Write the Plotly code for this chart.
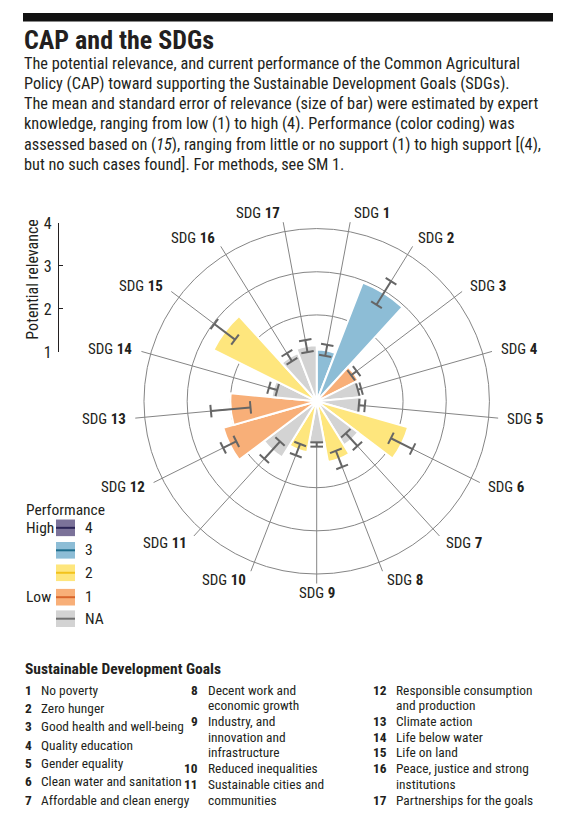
import math
import plotly.graph_objects as go

W, H = 565, 829
FONT = "Roboto Condensed, DejaVu Sans Condensed, Liberation Sans Narrow, Arial Narrow, Roboto, sans-serif"
TXT = "#231f20"

# ---------------- data ----------------
sdg_labels = [f"SDG {i}" for i in range(1, 18)]
sdg_ticktext = [f"SDG <b>{i}</b>" for i in range(1, 18)]
relevance = [1.2, 2.95, 1.08, 1.03, 1.05, 2.2, 1.2, 1.43, 1.0, 1.2, 1.53, 2.25, 2.0, 1.05, 2.67, 1.2, 1.3]
relevance_se = [0.13, 0.32, 0.08, 0.04, 0.07, 0.28, 0.2, 0.2, 0.05, 0.14, 0.27, 0.17, 0.46, 0.1, 0.3, 0.11, 0.14]
performance = ["3", "3", "1", "NA", "NA", "2", "NA", "2", "NA", "2", "NA", "1", "1", "NA", "2", "NA", "NA"]
perf_levels = ["4", "3", "2", "1", "NA"]
perf_side = ["High", "", "", "Low", ""]
perf_fill = {"4": "#7b7299", "3": "#8dbdd6", "2": "#fee67d", "1": "#f8af78", "NA": "#d3d3d3"}
perf_line = {"4": "#2b2456", "3": "#1e6d8c", "2": "#f2c21c", "1": "#d8652c", "NA": "#707070"}
relevance_ticks = [1, 2, 3, 4]

goal_col1 = [("1", "No poverty"), ("2", "Zero hunger"), ("3", "Good health and well-being"),
             ("4", "Quality education"), ("5", "Gender equality"),
             ("6", "Clean water and sanitation"), ("7", "Affordable and clean energy")]
goal_col2 = [("8", "Decent work and"), ("", "economic growth"), ("9", "Industry, and"),
             ("", "innovation and"), ("", "infrastructure"), ("10", "Reduced inequalities"),
             ("11", "Sustainable cities and"), ("", "communities")]
goal_col3 = [("12", "Responsible consumption"), ("", "and production"), ("13", "Climate action"),
             ("14", "Life below water"), ("15", "Life on land"), ("16", "Peace, justice and strong"),
             ("", "institutions"), ("17", "Partnerships for the goals")]

title = "CAP and the SDGs"
subtitle_lines = [
    "The potential relevance, and current performance of the Common Agricultural",
    "Policy (CAP) toward supporting the Sustainable Development Goals (SDGs).",
    "The mean and standard error of relevance (size of bar) were estimated by expert",
    "knowledge, ranging from low (1) to high (4). Performance (color coding) was",
    "assessed based on (<i>15</i>), ranging from little or no support (1) to high support [(4),",
    "but no such cases found]. For methods, see SM 1.",
]

# ---------------- geometry helpers (pixels -> paper) ----------------
def px(x):
    return x / W

def py(y):
    return 1 - y / H

N = len(sdg_labels)
STEP = 360 / N
ROT = 90 - STEP / 2          # SDG 1 sits half a slot clockwise from north
CX, CY, RPIX = 316.7, 401.5, 186.5
RMAX = 4.22

fig = go.Figure()

fig.add_trace(go.Barpolar(
    r=relevance, theta=sdg_labels,
    marker=dict(color=[perf_fill[p] for p in performance], line=dict(color="white", width=2)),
    showlegend=False, hoverinfo="skip",
))

# error bars (mean +/- se) along each spoke, with caps
er, et, ang = [], [], []
for i, (m, s, lab) in enumerate(zip(relevance, relevance_se, sdg_labels)):
    a = STEP / 2 + i * STEP
    er += [m - s, m + s, None]
    et += [lab, lab, None]
    ang += [a, a, 0]
fig.add_trace(go.Scatterpolar(
    r=er, theta=et, mode="lines+markers",
    line=dict(color="#666666", width=2),
    marker=dict(symbol="line-ew", size=9, angle=ang, color="#666666",
                line=dict(color="#666666", width=2)),
    showlegend=False, hoverinfo="skip", connectgaps=False,
))

# invisible trace for the left "Potential relevance" scale
fig.add_trace(go.Scatter(x=[0, 0], y=[relevance_ticks[0], relevance_ticks[-1]], mode="none",
                         showlegend=False, hoverinfo="skip"))

fig.update_layout(
    width=W, height=H, margin=dict(l=0, r=0, t=0, b=0),
    paper_bgcolor="white", plot_bgcolor="rgba(0,0,0,0)",
    font=dict(family=FONT, color=TXT),
    polar=dict(
        domain=dict(x=[px(CX - RPIX), px(CX + RPIX)], y=[py(CY + RPIX), py(CY - RPIX)]),
        bgcolor="rgba(0,0,0,0)",
        bargap=0,
        radialaxis=dict(range=[0, RMAX], tickvals=relevance_ticks, showticklabels=False,
                        ticks="", showline=False, gridcolor="#858585", gridwidth=0.9,
                        layer="above traces"),
        angularaxis=dict(rotation=ROT, direction="clockwise", type="category",
                         categoryarray=sdg_labels, tickvals=sdg_labels,
                         showticklabels=False, ticks="",
                         showline=False, gridcolor="#858585", gridwidth=0.9,
                         layer="above traces"),
    ),
    xaxis=dict(domain=[px(59), px(60)], visible=False, range=[0, 1]),
    yaxis=dict(domain=[py(351), py(219)], range=[1, 4], tickvals=relevance_ticks,
               showline=True, linecolor=TXT, linewidth=1.2, ticks="inside", ticklen=4,
               tickcolor=TXT, showgrid=False, zeroline=False, anchor="x",
               tickfont=dict(size=16, family=FONT, color=TXT), ticklabelstandoff=3),
)

shapes = []
ann = []

def text(t, x, y, size, xanchor="left", bold=False, angle=0):
    ann.append(dict(text=f"<b>{t}</b>" if bold else t, x=px(x), y=py(y), xref="paper", yref="paper",
                    xanchor=xanchor, yanchor="middle", showarrow=False, textangle=angle,
                    font=dict(size=size, family=FONT, color=TXT)))

# spoke-end labels (SDG n) placed at the outer end of each angular grid line
for i, lab in enumerate(sdg_ticktext):
    a = math.radians(STEP / 2 + i * STEP)
    s, c = math.sin(a), math.cos(a)
    ex, ey = CX + RPIX * s, CY - RPIX * c
    xa = "left" if s > 0.1 else ("right" if s < -0.1 else "center")
    text(lab, ex + 3 * s, ey - 10 * c, 15, xanchor=xa)

# header
shapes.append(dict(type="rect", xref="paper", yref="paper", x0=px(23), x1=px(553), y0=py(12.8), y1=py(4),
                   fillcolor="#111111", line=dict(width=0)))
text(title, 22, 32, 26, bold=True)
for i, line in enumerate(subtitle_lines):
    text(line, 22, 56 + 20.55 * i, 16.3)

# relevance axis title
text("Potential relevance", 33, 277, 16, xanchor="center", angle=-90)

# performance legend
text("Performance", 24, 512.5, 15.5)
legend_y = [531, 554, 577, 602, 624]
for lvl, side, yy in zip(perf_levels, perf_side, legend_y):
    shapes.append(dict(type="rect", xref="paper", yref="paper", x0=px(56), x1=px(75),
                       y0=py(yy + 8.5), y1=py(yy - 8.5), fillcolor=perf_fill[lvl], line=dict(width=0)))
    shapes.append(dict(type="line", xref="paper", yref="paper", x0=px(56), x1=px(75),
                       y0=py(yy), y1=py(yy), line=dict(color=perf_line[lvl], width=2)))
    text(lvl, 83, yy, 15.5)
    if side:
        text(side, 24, yy, 15.5)

# goals list
GF = 13.4
text("Sustainable Development Goals", 23, 675, 15.5, bold=True)
for i, (n, t) in enumerate(goal_col1):
    y = 697 + 18.8 * i
    text(n, 23, y, GF, bold=True)
    text(t, 39, y, GF)
for i, (n, t) in enumerate(goal_col2):
    y = 697 + 16.1 * i
    if n:
        text(n, 200, y, GF, xanchor="right", bold=True)
    text(t, 206, y, GF)
for i, (n, t) in enumerate(goal_col3):
    y = 697 + 16.1 * i
    if n:
        text(n, 389, y, GF, xanchor="right", bold=True)
    text(t, 394, y, GF)

fig.update_layout(shapes=shapes, annotations=ann)
fig.write_html("out.html", config={"displayModeBar": False},
               post_script="document.body.style.margin='0px';")
